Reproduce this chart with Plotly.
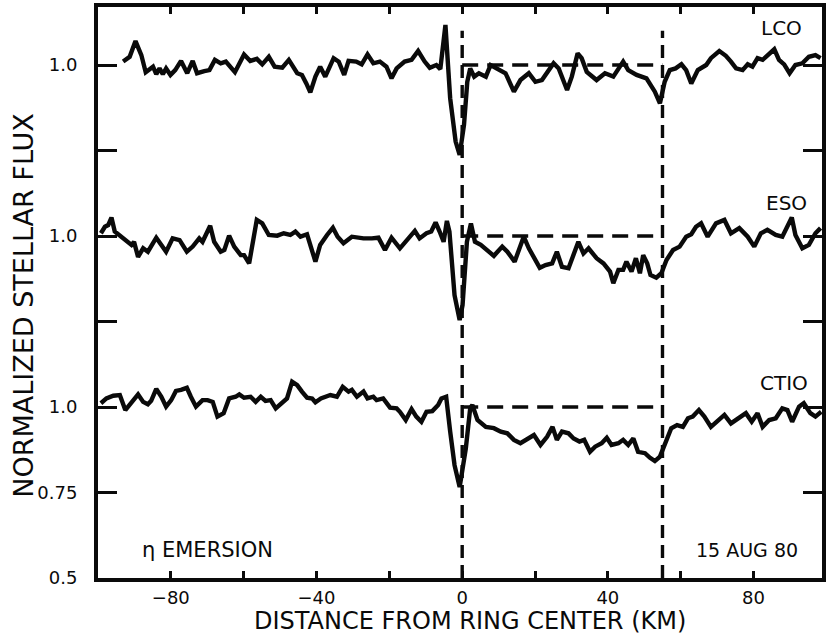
import plotly.graph_objects as go

# Occultation profiles: distance from ring centre (km) and normalized stellar flux
lco_km = [-93.1, -91.3, -89.7, -88.1, -86.9, -84.9, -84.0, -83.1, -82.2, -81.3, -80.1, -78.8,
          -77.2, -75.5, -74.0, -72.8, -70.8, -69.4, -67.9, -66.3, -64.9, -62.4, -59.9, -58.2,
          -56.4, -54.9, -53.1, -51.5, -49.4, -47.6, -45.3, -44.0, -42.8, -41.7, -40.3, -39.0,
          -37.6, -35.3, -33.9, -32.4, -31.2, -29.1, -27.6, -26.0, -24.4, -22.6, -20.8, -19.4,
          -18.0, -15.8, -13.9, -12.1, -10.3, -8.9, -7.1, -6.0, -4.6, -3.3, -1.8, -0.7,
          0.5, 1.4, 2.2, 3.3, 4.6, 6.5, 7.8, 9.6, 11.9, 14.2, 16.0, 18.3, 20.1, 21.9, 23.3,
          25.1, 26.5, 28.8, 30.1, 31.7, 32.8, 34.2, 36.9, 39.2, 41.5, 44.2, 45.6, 47.9, 50.6,
          52.9, 54.3, 55.6, 57.0, 58.6, 60.2, 61.5, 62.9, 64.7, 67.0, 68.3, 70.6, 72.4, 73.8,
          75.2, 77.0, 78.4, 79.7, 81.1, 82.5, 84.3, 85.7, 87.0, 88.4, 89.9, 91.5, 93.4, 95.2,
          97.0, 98.4]
lco_flux = [1.010, 1.024, 1.070, 1.029, 0.979, 0.995, 0.973, 0.990, 0.973, 0.990, 0.971, 0.985,
            1.012, 0.976, 1.012, 0.976, 0.982, 0.985, 1.015, 1.005, 1.010, 0.979, 1.031, 1.012,
            1.018, 1.002, 1.024, 0.995, 0.992, 1.015, 0.976, 0.971, 0.946, 0.920, 0.966, 0.995,
            0.966, 1.020, 1.010, 0.971, 1.012, 1.010, 1.002, 1.031, 1.005, 1.010, 0.995, 0.961,
            0.990, 1.010, 1.015, 1.041, 1.010, 0.992, 1.000, 0.988, 1.117, 0.903, 0.776, 0.737,
            0.825, 0.951, 0.990, 0.966, 0.976, 0.966, 1.000, 0.990, 0.976, 0.922, 0.956, 0.976,
            0.951, 0.956, 0.980, 1.005, 0.990, 0.927, 0.966, 1.034, 1.020, 0.980, 0.956, 0.976,
            0.966, 1.010, 0.985, 0.971, 0.961, 0.922, 0.888, 0.951, 0.985, 0.990, 1.002, 0.985,
            0.946, 0.985, 1.000, 1.020, 1.041, 1.027, 1.010, 0.990, 0.985, 1.002, 0.995, 1.020,
            1.015, 1.034, 1.046, 1.015, 1.002, 0.976, 1.000, 1.005, 1.024, 1.029, 1.020]

eso_km = [-99.2, -98.1, -97.2, -96.3, -95.4, -93.6, -92.2, -90.8, -90.1, -89.0, -87.6, -86.3,
          -84.0, -82.6, -81.3, -79.5, -77.6, -75.6, -74.0, -72.2, -71.3, -69.2, -68.1, -66.3,
          -65.3, -64.0, -62.6, -60.8, -59.9, -58.5, -56.4, -54.9, -53.1, -50.8, -49.0, -47.2,
          -45.8, -44.4, -42.6, -40.3, -39.0, -37.1, -35.5, -34.2, -32.6, -30.3, -27.1, -24.8,
          -23.0, -21.2, -19.4, -17.1, -14.8, -13.0, -11.7, -9.8, -8.5, -7.3, -6.2, -5.1, -4.2,
          -3.5, -2.1, -0.7, 0.1, 1.3, 2.4, 3.5, 5.1, 6.9, 8.7, 11.0, 12.4, 14.4, 16.9, 18.3,
          19.7, 21.3, 22.9, 24.7, 26.0, 27.4, 29.2, 31.9, 33.3, 34.7, 36.9, 38.8, 40.6, 41.5,
          42.9, 44.2, 45.1, 46.5, 47.7, 48.8, 49.7, 50.8, 51.7, 53.3, 54.7, 56.1, 57.9, 59.7,
          61.5, 62.9, 64.2, 65.6, 67.4, 69.7, 72.0, 73.8, 76.1, 78.4, 80.2, 82.0, 83.8, 86.1,
          87.9, 89.3, 90.5, 91.5, 93.4, 95.2, 97.0, 98.4]
eso_flux = [1.008, 1.027, 1.032, 1.054, 1.013, 0.998, 0.983, 0.974, 0.983, 0.939, 0.964, 0.954,
            0.995, 0.976, 0.954, 0.993, 0.988, 0.954, 0.969, 0.993, 0.983, 1.030, 0.983, 0.954,
            0.959, 1.001, 0.969, 0.944, 0.944, 0.920, 1.047, 1.037, 1.003, 1.001, 1.008, 1.003,
            1.013, 0.998, 1.005, 0.925, 0.974, 1.003, 1.024, 0.998, 0.979, 0.998, 0.993, 0.993,
            0.995, 0.959, 0.995, 0.964, 0.993, 1.015, 0.993, 1.008, 1.013, 1.040, 1.013, 0.983,
            1.044, 1.013, 0.827, 0.754, 0.798, 0.983, 1.037, 0.983, 0.974, 0.959, 0.942, 0.969,
            0.954, 0.925, 0.998, 0.964, 0.939, 0.907, 0.915, 0.920, 0.954, 0.910, 0.906, 0.983,
            0.949, 0.964, 0.935, 0.920, 0.896, 0.862, 0.901, 0.901, 0.925, 0.896, 0.935, 0.891,
            0.944, 0.920, 0.886, 0.878, 0.891, 0.930, 0.959, 0.969, 0.998, 1.005, 1.027, 1.037,
            0.998, 1.037, 1.047, 1.008, 1.023, 0.998, 0.969, 1.008, 1.018, 1.003, 0.998, 1.027,
            1.054, 1.003, 0.964, 0.974, 1.008, 1.023]

ctio_km = [-99.2, -97.7, -95.8, -94.0, -92.5, -90.8, -89.0, -87.6, -86.3, -85.4, -84.0, -82.6,
           -81.3, -79.9, -78.6, -77.2, -75.6, -74.5, -73.1, -71.3, -69.9, -68.5, -67.2, -65.5,
           -64.0, -62.2, -61.2, -59.9, -58.1, -56.7, -55.3, -54.0, -52.6, -51.2, -49.4, -48.1,
           -46.7, -45.3, -44.0, -42.6, -41.2, -40.3, -38.8, -36.2, -34.4, -32.8, -31.2, -30.3,
           -28.9, -27.1, -26.0, -24.4, -23.5, -21.7, -19.8, -18.0, -17.1, -15.5, -13.9, -12.6,
           -11.2, -9.8, -8.2, -6.6, -5.7, -4.4, -3.3, -2.1, -0.7, 1.0, 2.2, 2.8, 4.2, 6.5, 8.7,
           10.6, 12.4, 14.2, 16.0, 17.8, 19.7, 21.5, 23.3, 24.8, 26.0, 27.4, 29.2, 30.6, 32.2,
           33.5, 35.1, 36.5, 38.3, 39.7, 41.0, 42.9, 44.2, 45.6, 47.0, 48.3, 50.2, 51.5, 52.9,
           54.3, 56.1, 57.4, 59.0, 60.6, 62.0, 63.3, 65.0, 66.5, 68.3, 70.2, 72.0, 73.8, 76.1,
           77.9, 79.5, 81.1, 82.5, 84.3, 86.1, 87.9, 89.3, 90.6, 92.5, 93.8, 95.6, 97.0, 98.6]
ctio_flux = [1.011, 1.025, 1.033, 1.035, 0.991, 1.015, 1.037, 1.015, 1.008, 1.018, 1.053, 1.030,
             1.001, 1.020, 1.047, 1.050, 1.056, 1.030, 1.001, 1.020, 1.020, 1.015, 0.972, 0.982,
             1.025, 1.030, 1.037, 1.027, 1.030, 1.015, 1.030, 1.018, 1.020, 0.996, 1.011, 1.025,
             1.074, 1.064, 1.045, 1.027, 1.025, 1.014, 1.025, 1.035, 1.030, 1.059, 1.045, 1.050,
             1.030, 1.045, 1.025, 1.030, 1.020, 1.025, 0.998, 0.996, 0.986, 0.962, 0.994, 0.972,
             0.957, 0.986, 0.988, 1.006, 1.025, 1.030, 0.928, 0.830, 0.766, 0.879, 0.996, 1.006,
             0.962, 0.942, 0.938, 0.928, 0.923, 0.904, 0.894, 0.904, 0.918, 0.889, 0.913, 0.942,
             0.904, 0.928, 0.923, 0.908, 0.899, 0.904, 0.869, 0.884, 0.894, 0.910, 0.889, 0.894,
             0.904, 0.889, 0.908, 0.869, 0.865, 0.852, 0.842, 0.855, 0.908, 0.938, 0.947, 0.942,
             0.967, 0.972, 0.991, 0.972, 0.942, 0.962, 0.977, 0.952, 0.967, 0.982, 0.957, 0.982,
             0.942, 0.962, 0.967, 0.996, 0.991, 0.957, 1.001, 1.011, 0.982, 0.972, 0.986]

# Each station is stacked with a vertical offset; the unocculted level is 1.0 for all
stations = ["LCO", "ESO", "CTIO"]
offsets = [1.0, 0.5, 0.0]

# Ring edges (km)
ring_inner_km = 0
ring_outer_km = 55

y_tickvals = [0.5, 0.75, 1.0, 1.25, 1.5, 1.75, 2.0]
y_ticktext = ["0.5", "0.75", "1.0", "", "1.0", "", "1.0"]
x_tickvals = [-80, -60, -40, -20, 0, 20, 40, 60, 80]
x_ticktext = ["\u221280", "", "\u221240", "", "0", "", "40", "", "80"]

INK = "#0a0a0a"
FONT = "DejaVu Sans"

fig = go.Figure()

profiles = [(lco_km, lco_flux), (eso_km, eso_flux), (ctio_km, ctio_flux)]
for name, off, (km, flux) in zip(stations, offsets, profiles):
    fig.add_trace(go.Scatter(
        x=km, y=[f + off for f in flux], mode="lines", name=name,
        line=dict(color=INK, width=4.4, shape="linear"),
        hoverinfo="skip",
    ))

# Dashed ring boundaries and the unocculted reference level across the ring
top_of_dash = 2.10
for xk in (ring_inner_km, ring_outer_km):
    fig.add_shape(type="line", x0=xk, x1=xk, y0=0.5, y1=top_of_dash, xref="x", yref="y",
                  line=dict(color=INK, width=3.4, dash="13px,7px"))
for off in offsets:
    fig.add_shape(type="line", x0=ring_inner_km, x1=ring_outer_km, y0=1.0 + off, y1=1.0 + off,
                  xref="x", yref="y", line=dict(color=INK, width=3.4, dash="16px,9px"))

labels = [("LCO", 87.6, 2.108), ("ESO", 89.0, 1.596), ("CTIO", 88.5, 1.070)]
for text, xk, yv in labels:
    fig.add_annotation(x=xk, y=yv, xref="x", yref="y", text=text, showarrow=False,
                       font=dict(family=FONT, size=20, color=INK))

fig.add_annotation(x=-69.9, y=0.582, xref="x", yref="y", text="\u03b7 EMERSION", showarrow=False,
                   font=dict(family=FONT, size=21, color=INK))
fig.add_annotation(x=78.1, y=0.582, xref="x", yref="y", text="15 AUG 80", showarrow=False,
                   font=dict(family=FONT, size=19, color=INK))

# Axis titles
fig.add_annotation(x=0.514, y=-0.1016, xref="paper", yref="paper",
                   text="DISTANCE FROM RING CENTER (KM)", showarrow=False,
                   xanchor="center", yanchor="bottom", borderpad=0,
                   font=dict(family=FONT, size=24, color=INK))
fig.add_annotation(x=-0.104, y=0.478, xref="paper", yref="paper",
                   text="NORMALIZED STELLAR FLUX", showarrow=False, textangle=-90,
                   xanchor="center", yanchor="middle",
                   font=dict(family=FONT, size=27, color=INK))

fig.update_xaxes(range=[-100, 98.8], showgrid=False, zeroline=False,
                 showline=True, linewidth=4, linecolor=INK, mirror="ticks",
                 ticks="inside", ticklen=7, tickwidth=3, tickcolor=INK,
                 tickvals=x_tickvals, ticktext=x_ticktext, ticklabelstandoff=0,
                 tickfont=dict(family=FONT, size=18, color=INK))
fig.update_yaxes(range=[0.5, 2.1696], showgrid=False, zeroline=False,
                 showline=True, linewidth=4, linecolor=INK, mirror="ticks",
                 ticks="inside", ticklen=19, tickwidth=3, tickcolor=INK,
                 tickvals=y_tickvals, ticktext=y_ticktext, ticklabelstandoff=13,
                 tickfont=dict(family=FONT, size=18, color=INK))

fig.update_layout(width=826, height=636, margin=dict(l=98, r=0, t=7, b=58),
                  paper_bgcolor="white", plot_bgcolor="white", showlegend=False,
                  font=dict(family=FONT, color=INK))

fig.write_html("out.html")
